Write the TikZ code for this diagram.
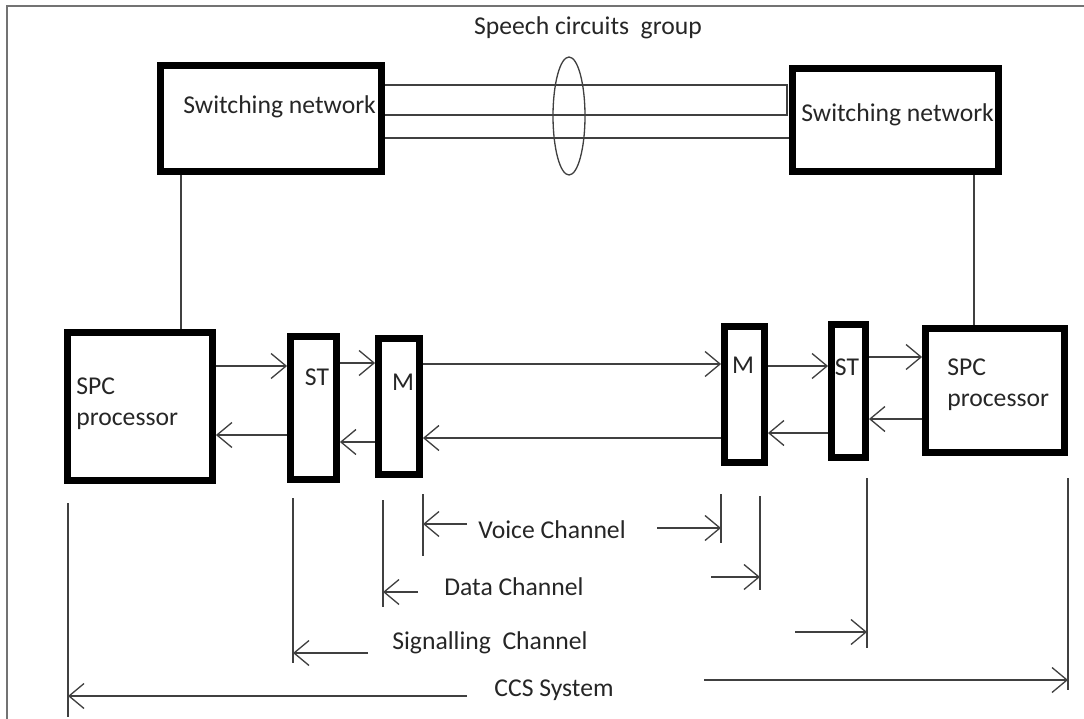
\documentclass[tikz,border=0pt]{standalone}
\usepackage{fontspec}
\setmainfont{Carlito}
\usetikzlibrary{arrows.meta}
\begin{document}
\begin{tikzpicture}[x=0.02cm,y=-0.02cm,
    blk/.style={draw=black,line width=4.2pt,inner sep=0pt},
    wire/.style={draw=black!75,line width=0.75pt},
    arr/.style={wire,-{Straight Barb[length=3mm,width=5mm]}},
    txt/.style={inner sep=0pt,text=black!85,font=\fontsize{14.6}{17.5}\selectfont}]
  \useasboundingbox (0,0) rectangle (1084,719);
  \draw[black!55,line width=0.6pt] (7,719) -- (7,6) -- (1084,6);

  \node[blk,minimum width=4.41cm,minimum height=2.11cm] (swL) at (271,118.5) {};
  \node[blk,minimum width=4.11cm,minimum height=2.05cm] (swR) at (895.5,120) {};
  \node[blk,minimum width=2.89cm,minimum height=2.95cm] (spcL) at (140,406.5) {};
  \node[blk,minimum width=0.91cm,minimum height=2.85cm] (stL) at (313.5,408) {};
  \node[blk,minimum width=0.81cm,minimum height=2.71cm] (mL) at (399,406.5) {};
  \node[blk,minimum width=0.79cm,minimum height=2.71cm] (mR) at (744.5,394.5) {};
  \node[blk,minimum width=0.67cm,minimum height=2.65cm] (stR) at (848.5,391) {};
  \node[blk,minimum width=2.77cm,minimum height=2.47cm] (spcR) at (995,390.5) {};

  \node[txt,anchor=west] (swLtxt) at (183,107) {Switching network};
  \node[txt,anchor=west] (swRtxt) at (801,115) {Switching network};
  \node[txt,anchor=west,align=left] (spcLtxt) at (76,403.5) {SPC\\processor};
  \node[txt,anchor=west,align=left] (spcRtxt) at (947,385) {SPC\\processor};
  \node[txt] (stLtxt) at (317,377) {ST};
  \node[txt] (mLtxt) at (403,382) {M};
  \node[txt] (mRtxt) at (743,365) {M};
  \node[txt] (stRtxt) at (847,367) {ST};
  \node[txt] (speech) at (588,28) {Speech circuits\ \ group};

  \draw[wire] (swL.east |- 0,85) -- (787,85) -- (787,115) -- (swL.east |- 0,115);
  \draw[wire] (swL.east |- 0,138) -- (swR.west |- 0,138);
  \draw[wire] (569,116) ellipse [x radius=0.32cm,y radius=1.18cm];
  \draw[wire] (swL.south -| 181,0) -- (spcL.north -| 181,0);
  \draw[wire] (swR.south -| 974,0) -- (spcR.north -| 974,0);

  \draw[arr] (spcL.east |- 0,366) -- (stL.west |- 0,366);
  \draw[arr] (stL.east |- 0,363) -- (mL.west |- 0,363);
  \draw[arr] (mL.east |- 0,364) -- (mR.west |- 0,364);
  \draw[arr] (mR.east |- 0,366) -- (stR.west |- 0,366);
  \draw[arr] (stR.east |- 0,357) -- (spcR.west |- 0,357);
  \draw[arr] (spcR.west |- 0,419) -- (stR.east |- 0,419);
  \draw[arr] (stR.west |- 0,433) -- (mR.east |- 0,433);
  \draw[arr] (mR.west |- 0,438) -- (mL.east |- 0,438);
  \draw[arr] (mL.west |- 0,442) -- (stL.east |- 0,442);
  \draw[arr] (stL.west |- 0,435) -- (spcL.east |- 0,435);

  \node[txt] (voice) at (552,530) {Voice Channel};
  \node[txt] (data) at (514,587) {Data Channel};
  \node[txt] (sig) at (490,643) {Signalling\ \ Channel};
  \node[txt] (ccs) at (554,690) {CCS System};

  \draw[wire] (68,503) -- (68,717);
  \draw[wire] (293,498) -- (293,663);
  \draw[wire] (383,500) -- (383,607);
  \draw[wire] (423,494) -- (423,556);
  \draw[wire] (721,494) -- (721,543);
  \draw[wire] (760,496) -- (760,590);
  \draw[wire] (867,478) -- (867,648);
  \draw[wire] (1068,478) -- (1068,690);

  \draw[arr] (467,524) -- (423,524);
  \draw[arr] (657,528) -- (721,528);
  \draw[arr] (418,592) -- (383,592);
  \draw[arr] (711,577) -- (760,577);
  \draw[arr] (368,653) -- (293,653);
  \draw[arr] (795,632) -- (867,632);
  \draw[arr] (467,696) -- (68,696);
  \draw[arr] (704,680) -- (1068,680);
\end{tikzpicture}
\end{document}
